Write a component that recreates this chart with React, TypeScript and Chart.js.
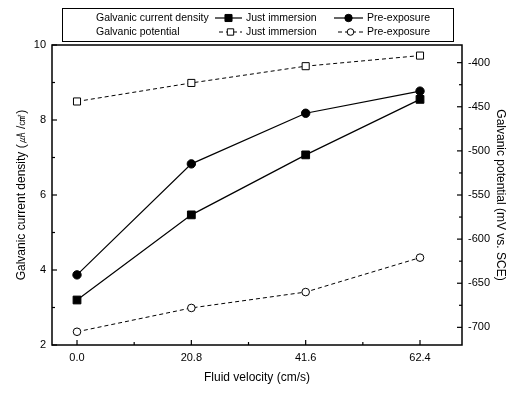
import React, { useEffect, useRef } from 'react';
import { Chart, registerables } from 'chart.js';

Chart.register(...registerables);

// ---- data ----
const velocities = [0.0, 20.8, 41.6, 62.4];
const currentJustImmersion = [3.2, 5.47, 7.07, 8.55];
const currentPreExposure = [3.87, 6.83, 8.18, 8.77];
const potentialJustImmersion = [-444, -423, -404, -392];
const potentialPreExposure = [-705, -678, -660, -621];

const xTickValues = [0.0, 20.8, 41.6, 62.4];
const xMinorTicks = [10.4, 31.2, 52.0];
const leftTickValues = [2, 4, 6, 8, 10];
const leftMinorTicks = [3, 5, 7, 9];
const rightTickValues = [-700, -650, -600, -550, -500, -450, -400];
const rightMinorTicks = [-675, -625, -575, -525, -475, -425];

const xTitle = 'Fluid velocity (cm/s)';
const leftTitle = 'Galvanic current density (㎂ /㎠)';
const rightTitle = 'Galvanic potential (mV vs. SCE)';
const legendRow1 = 'Galvanic current density';
const legendRow2 = 'Galvanic potential';
const seriesNames = ['Just immersion', 'Pre-exposure'];

const FONT = '"Liberation Sans", Arial, Helvetica, sans-serif';

const toPoints = (ys: number[]) => velocities.map((x, i) => ({ x, y: ys[i] }));

function drawMarker(ctx: CanvasRenderingContext2D, style: string, filled: boolean, x: number, y: number, r: number) {
  ctx.save();
  ctx.setLineDash([]);
  ctx.lineWidth = 1;
  ctx.strokeStyle = '#000';
  ctx.fillStyle = filled ? '#000' : '#fff';
  ctx.beginPath();
  if (style === 'rect') {
    const s = Math.SQRT1_2 * r;
    ctx.rect(x - s, y - s, 2 * s, 2 * s);
  } else {
    ctx.arc(x, y, r, 0, Math.PI * 2);
  }
  ctx.fill();
  ctx.stroke();
  ctx.restore();
}

const framePlugin = {
  id: 'frameAndLegend',
  afterDraw(chart: any) {
    const ctx: CanvasRenderingContext2D = chart.ctx;
    const { left, right, top, bottom } = chart.chartArea;
    const xs = chart.scales.x;
    const yl = chart.scales.y;
    const yr = chart.scales.y2;
    ctx.save();
    ctx.strokeStyle = '#000';
    ctx.lineWidth = 1.5;
    ctx.strokeRect(left, top, right - left, bottom - top);
    ctx.lineWidth = 1.2;
    const tick = (x1: number, y1: number, x2: number, y2: number) => {
      ctx.beginPath();
      ctx.moveTo(x1, y1);
      ctx.lineTo(x2, y2);
      ctx.stroke();
    };
    leftTickValues.forEach(v => { const y = yl.getPixelForValue(v); tick(left, y, left + 5, y); });
    leftMinorTicks.forEach(v => { const y = yl.getPixelForValue(v); tick(left, y, left + 3, y); });
    rightTickValues.forEach(v => { const y = yr.getPixelForValue(v); tick(right, y, right - 5, y); });
    rightMinorTicks.forEach(v => { const y = yr.getPixelForValue(v); tick(right, y, right - 3, y); });
    xTickValues.forEach(v => { const x = xs.getPixelForValue(v); tick(x, bottom, x, bottom - 5); });
    xMinorTicks.forEach(v => { const x = xs.getPixelForValue(v); tick(x, bottom, x, bottom - 3); });

    // legend box
    const bx0 = 62, bx1 = 453, by0 = 8, by1 = 41;
    ctx.lineWidth = 1;
    ctx.strokeRect(bx0 + 0.5, by0 + 0.5, bx1 - bx0, by1 - by0);
    ctx.font = `10.5px ${FONT}`;
    ctx.fillStyle = '#000';
    ctx.textBaseline = 'middle';
    ctx.textAlign = 'left';
    const row1 = 18, row2 = 32;
    ctx.fillText(legendRow1, 96, row1);
    ctx.fillText(legendRow2, 96, row2);

    const ds = chart.data.datasets;
    const sample = (d: any, x0: number, x1: number, y: number) => {
      ctx.save();
      ctx.strokeStyle = '#000';
      ctx.lineWidth = d.borderWidth;
      ctx.setLineDash(d.borderDash || []);
      tick(x0, y, x1, y);
      ctx.restore();
      drawMarker(ctx, d.pointStyle, d.pointBackgroundColor === '#000', (x0 + x1) / 2, y, d.pointRadius - 0.5);
    };
    sample(ds[0], 215, 242, row1);
    ctx.fillText(seriesNames[0], 246, row1);
    sample(ds[1], 334, 363, row1);
    ctx.fillText(seriesNames[1], 367, row1);
    sample(ds[2], 219, 242, row2);
    ctx.fillText(seriesNames[0], 246, row2);
    sample(ds[3], 338, 363, row2);
    ctx.fillText(seriesNames[1], 367, row2);
    ctx.restore();
  },
};

export default function App() {
  const ref = useRef<HTMLCanvasElement>(null);
  useEffect(() => {
    if (!ref.current) return;
    Chart.defaults.font.family = FONT;
    Chart.defaults.color = '#000';
    const chart = new Chart(ref.current, {
      type: 'line',
      data: {
        datasets: [
          {
            label: 'Current - Just immersion',
            data: toPoints(currentJustImmersion),
            yAxisID: 'y',
            borderColor: '#000',
            borderWidth: 1.2,
            pointStyle: 'rect',
            pointRadius: 5.5,
            pointBackgroundColor: '#000',
            pointBorderColor: '#000',
            pointBorderWidth: 1,
          },
          {
            label: 'Current - Pre-exposure',
            data: toPoints(currentPreExposure),
            yAxisID: 'y',
            borderColor: '#000',
            borderWidth: 1.2,
            pointStyle: 'circle',
            pointRadius: 4.2,
            pointBackgroundColor: '#000',
            pointBorderColor: '#000',
            pointBorderWidth: 1,
          },
          {
            label: 'Potential - Just immersion',
            data: toPoints(potentialJustImmersion),
            yAxisID: 'y2',
            borderColor: '#000',
            borderWidth: 1,
            borderDash: [4, 3],
            pointStyle: 'rect',
            pointRadius: 5,
            pointBackgroundColor: '#fff',
            pointBorderColor: '#000',
            pointBorderWidth: 1,
          },
          {
            label: 'Potential - Pre-exposure',
            data: toPoints(potentialPreExposure),
            yAxisID: 'y2',
            borderColor: '#000',
            borderWidth: 1,
            borderDash: [4, 3],
            pointStyle: 'circle',
            pointRadius: 3.8,
            pointBackgroundColor: '#fff',
            pointBorderColor: '#000',
            pointBorderWidth: 1,
          },
        ],
      },
      options: {
        responsive: false,
        animation: false,
        devicePixelRatio: 1,
        layout: { padding: { top: 45, left: 0, right: 0, bottom: 0 } },
        plugins: { legend: { display: false }, tooltip: { enabled: false } },
        scales: {
          x: {
            type: 'linear',
            min: -4.55,
            max: 70.04,
            afterBuildTicks: (s: any) => { s.ticks = xTickValues.map(v => ({ value: v })); },
            afterFit: (s: any) => { s.height = 48; },
            ticks: {
              callback: (v: any) => Number(v).toFixed(1),
              font: { size: 11, family: FONT },
              color: '#000',
              padding: 6,
              maxRotation: 0,
              autoSkip: false,
            },
            grid: { display: false, drawTicks: false },
            border: { display: false },
            title: { display: true, text: xTitle, font: { size: 12, family: FONT }, color: '#000', padding: { top: 0, bottom: 8 } },
          },
          y: {
            type: 'linear',
            position: 'left',
            min: 2,
            max: 10,
            afterBuildTicks: (s: any) => { s.ticks = leftTickValues.map(v => ({ value: v })); },
            afterFit: (s: any) => { s.width = 52; },
            ticks: { font: { size: 11, family: FONT }, color: '#000', padding: 6, autoSkip: false },
            grid: { display: false, drawTicks: false },
            border: { display: false },
            title: { display: true, text: leftTitle, font: { size: 12, family: FONT }, color: '#000', padding: { top: 14, bottom: 0 } },
          },
          y2: {
            type: 'linear',
            position: 'right',
            min: -720,
            max: -380,
            afterBuildTicks: (s: any) => { s.ticks = rightTickValues.map(v => ({ value: v })); },
            afterFit: (s: any) => { s.width = 53; },
            ticks: { font: { size: 11, family: FONT }, color: '#000', padding: 6, autoSkip: false },
            grid: { display: false, drawTicks: false },
            border: { display: false },
            title: { display: true, text: rightTitle, font: { size: 12, family: FONT }, color: '#000', padding: { top: 7, bottom: 0 } },
          },
        },
      },
      plugins: [framePlugin],
    } as any);
    return () => chart.destroy();
  }, []);
  return (
    <div style={{ position: 'fixed', left: 0, top: 0, width: 515, height: 393, background: '#fff' }}>
      <canvas ref={ref} width={515} height={393} style={{ display: 'block' }} />
    </div>
  );
}
